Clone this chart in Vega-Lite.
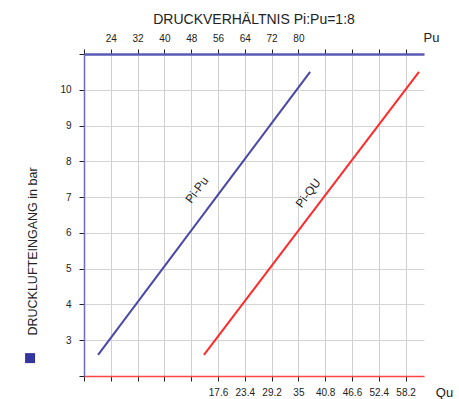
{
  "$schema": "https://vega.github.io/schema/vega-lite/v6.json",
  "width": 340,
  "height": 322,
  "autosize": "none",
  "padding": {"left": 84, "top": 54, "right": 35, "bottom": 23},
  "background": "white",
  "config": {
    "font": "Liberation Sans",
    "view": {"stroke": null},
    "axis": {"labelFont": "Liberation Sans", "titleFont": "Liberation Sans", "labelColor": "#222", "titleColor": "#222", "tickColor": "#222", "tickWidth": 1, "labelFontSize": 10}
  },
  "title": {"text": "DRUCKVERHÄLTNIS Pi:Pu=1:8", "fontSize": 14, "fontWeight": "normal", "color": "#222", "anchor": "middle", "frame": "group", "offset": 4},
  "encoding": {
    "y": {
      "field": "Pi", "type": "quantitative",
      "scale": {"domain": [2, 11], "nice": false, "zero": false},
      "axis": {
        "values": [2, 3, 4, 5, 6, 7, 8, 9, 10, 11],
        "labelExpr": "datum.value >= 3 && datum.value <= 10 ? datum.label : ''",
        "grid": true, "gridColor": "#d4d4d4", "gridWidth": 1,
        "domainColor": "#6c6cc4", "domainWidth": 1.5,
        "tickSize": 5, "labelPadding": 8,
        "title": "DRUCKLUFTEINGANG in bar", "titleFontSize": 12.5, "titleFontWeight": "normal",
        "titleAngle": -90, "titleX": -52, "titleY": 197, "titleAlign": "center", "titleBaseline": "middle"
      }
    }
  },
  "layer": [
    {
      "encoding": {
        "x": {
          "field": "Pu", "type": "quantitative",
          "scale": {"domain": [16, 117.5], "nice": false, "zero": false},
          "axis": {
            "orient": "top",
            "values": [16, 24, 32, 40, 48, 56, 64, 72, 80, 88, 96, 104, 112],
            "labelExpr": "datum.value >= 24 && datum.value <= 80 ? datum.label : ''",
            "grid": true, "gridColor": "#d0d0d0", "gridWidth": 1, "gridOpacity": 1,
            "domainColor": "#5a5ab4", "domainWidth": 2.5,
            "tickSize": 5, "labelPadding": 6,
            "title": "Pu", "titleFontSize": 13, "titleFontWeight": "normal",
            "titleX": 347, "titleY": -17, "titleAlign": "center", "titleBaseline": "middle"
          }
        }
      },
      "layer": [
        {
          "data": {"values": [{"Pu": 20.2, "Pi": 2.59}, {"Pu": 83.5, "Pi": 10.5}]},
          "mark": {"type": "line", "color": "#4848a8", "strokeWidth": 2}
        },
        {
          "data": {"values": [{"Pu": 49.7, "Pi": 7.2, "label": "Pi-Pu"}]},
          "mark": {"type": "text", "angle": -53, "fontSize": 12, "color": "#222", "align": "center", "baseline": "middle"},
          "encoding": {"text": {"field": "label"}}
        },
        {
          "data": {"values": [{"Pu": -0.1, "Pi": 2.5}]},
          "mark": {"type": "point", "shape": "square", "filled": true, "size": 100, "color": "#3535a0", "opacity": 1, "clip": false}
        }
      ]
    },
    {
      "encoding": {
        "x": {
          "field": "Qu", "type": "quantitative",
          "scale": {"domain": [-11.4, 62.1875], "nice": false, "zero": false},
          "axis": {
            "orient": "bottom",
            "values": [-11.4, -5.6, 0.2, 6, 11.8, 17.6, 23.4, 29.2, 35, 40.8, 46.6, 52.4, 58.2],
            "labelExpr": "datum.value >= 17 ? '' + round(datum.value * 10) / 10 : ''",
            "grid": false,
            "domainColor": "#ff4444", "domainWidth": 1.5,
            "tickSize": 5, "labelPadding": 6,
            "title": "Qu", "titleFontSize": 13, "titleFontWeight": "normal",
            "titleX": 360, "titleY": 16, "titleAlign": "center", "titleBaseline": "middle"
          }
        }
      },
      "layer": [
        {
          "data": {"values": [{"Qu": 14.56, "Pi": 2.59}, {"Qu": 61.1, "Pi": 10.5}]},
          "mark": {"type": "line", "color": "#ff2a2a", "strokeWidth": 2}
        },
        {
          "data": {"values": [{"Qu": 37.1, "Pi": 7.11, "label": "Pi-QU"}]},
          "mark": {"type": "text", "angle": -53, "fontSize": 12, "color": "#222", "align": "center", "baseline": "middle"},
          "encoding": {"text": {"field": "label"}}
        }
      ]
    }
  ],
  "resolve": {"scale": {"x": "independent"}}
}
